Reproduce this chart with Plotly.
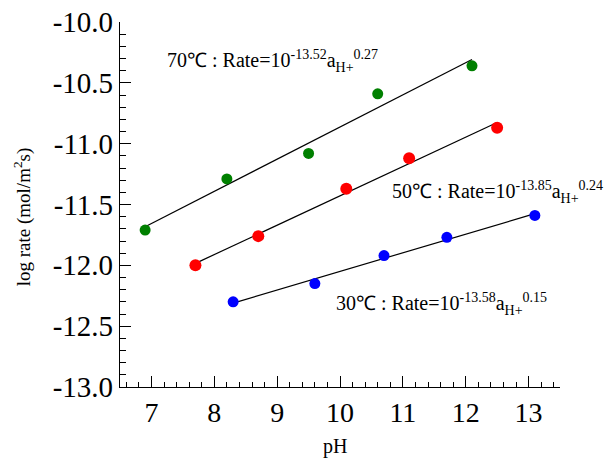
import numpy as np
import plotly.graph_objects as go

# Data
ph_70 = [6.9, 8.2, 9.5, 10.6, 12.1]
rate_70 = [-11.71, -11.29, -11.08, -10.59, -10.36]
ph_50 = [7.7, 8.7, 10.1, 11.1, 12.5]
rate_50 = [-12.00, -11.76, -11.37, -11.12, -10.87]
ph_30 = [8.3, 9.6, 10.7, 11.7, 13.1]
rate_30 = [-12.30, -12.15, -11.92, -11.77, -11.59]

x_ticks = [7, 8, 9, 10, 11, 12, 13]
y_ticks = [-13.0, -12.5, -12.0, -11.5, -11.0, -10.5, -10.0]
y_ticktext = ["-13.0", "-12.5", "-12.0", "-11.5", "-11.0", "-10.5", "-10.0"]

labels = [
    "70℃ : Rate=10<sup>-13.52</sup>a<sub>H+</sub><sup>0.27</sup>",
    "50℃ : Rate=10<sup>-13.85</sup>a<sub>H+</sub><sup>0.24</sup>",
    "30℃ : Rate=10<sup>-13.58</sup>a<sub>H+</sub><sup>0.15</sup>",
]
label_pos = [(7.21, -10.32), (10.80, -11.40), (9.91, -12.32)]

FONT = "Liberation Serif"

fig = go.Figure()
series = [
    (ph_70, rate_70, "#008000", 11),
    (ph_50, rate_50, "#ff0000", 12),
    (ph_30, rate_30, "#0000ff", 11),
]
for xs, ys, col, sz in series:
    k, b = np.polyfit(xs, ys, 1)
    xl = np.array([min(xs), max(xs)])
    fig.add_trace(go.Scatter(x=xl, y=k * xl + b, mode="lines",
                             line=dict(color="black", width=1.2),
                             showlegend=False, hoverinfo="skip"))
for xs, ys, col, sz in series:
    fig.add_trace(go.Scatter(x=xs, y=ys, mode="markers",
                             marker=dict(color=col, size=sz, line=dict(width=0)),
                             showlegend=False))

for txt, (ax, ay) in zip(labels, label_pos):
    fig.add_annotation(x=ax, y=ay, xref="x", yref="y", text=txt,
                       showarrow=False, xanchor="left", yanchor="middle",
                       font=dict(family=FONT, size=20, color="black"))

# axis titles
fig.add_annotation(x=0.489, y=-0.162, xref="paper", yref="paper", text="pH",
                   showarrow=False, xanchor="center", yanchor="middle",
                   font=dict(family=FONT, size=20, color="black"))
fig.add_annotation(x=-0.2227, y=0.465, xref="paper", yref="paper",
                   text="log rate (mol/m<sup>2</sup>s)", textangle=-90,
                   showarrow=False, xanchor="center", yanchor="middle",
                   font=dict(family=FONT, size=19, color="black"))

fig.update_layout(
    width=608, height=459,
    margin=dict(l=120, r=48, t=22, b=72, autoexpand=False),
    paper_bgcolor="white", plot_bgcolor="white",
    font=dict(family=FONT, color="black"),
    xaxis=dict(range=[6.5, 13.5], tickvals=x_ticks, ticks="inside", ticklen=11,
               tickwidth=1.2, tickcolor="black", showline=True, linecolor="black",
               linewidth=1.2, showgrid=False, zeroline=False, automargin=False,
               tickfont=dict(family=FONT, size=28),
               minor=dict(dtick=0.2, tick0=7, ticks="inside", ticklen=5,
                          tickwidth=1, tickcolor="black", showgrid=False)),
    yaxis=dict(range=[-13.0, -10.0], tickvals=y_ticks, ticktext=y_ticktext,
               ticks="inside", ticklen=11, tickwidth=1.2, tickcolor="black",
               showline=True, linecolor="black", linewidth=1.2, showgrid=False,
               zeroline=False, automargin=False, tickfont=dict(family=FONT, size=29),
               minor=dict(dtick=0.1, tick0=-13, ticks="inside", ticklen=6,
                          tickwidth=1, tickcolor="black", showgrid=False)),
)

fig.write_html("out.html")
